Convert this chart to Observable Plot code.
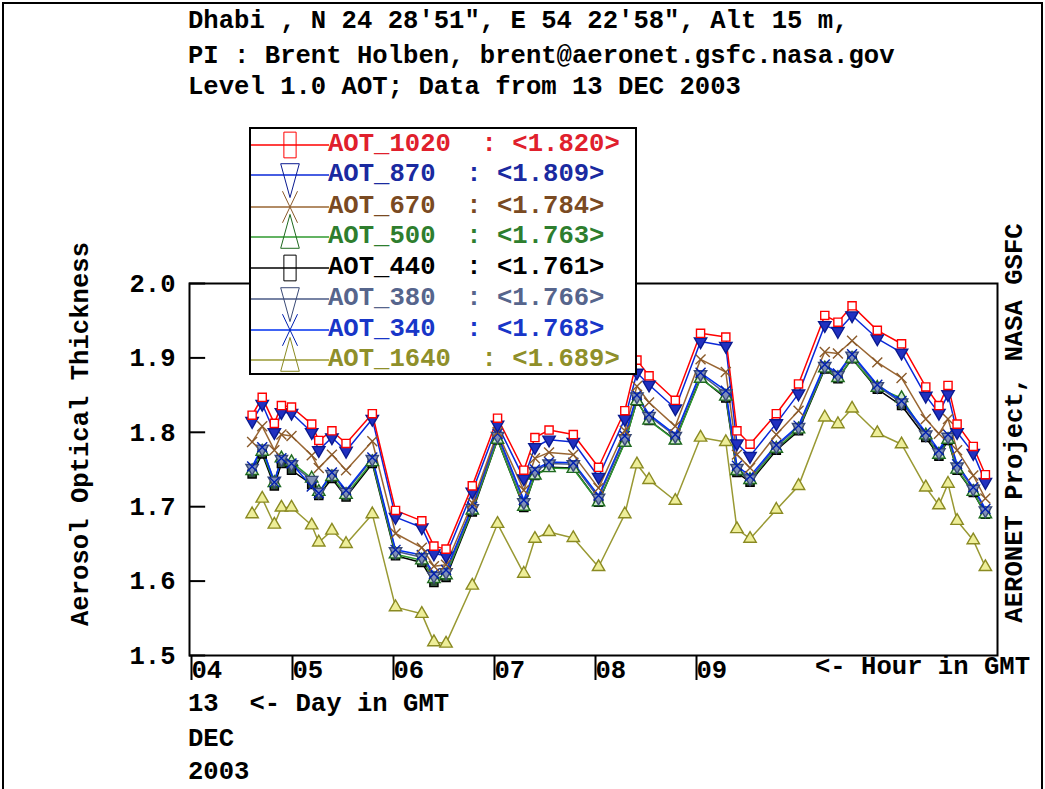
<!DOCTYPE html>
<html><head><meta charset="utf-8">
<script src="https://cdn.jsdelivr.net/npm/d3@7"></script>
<script src="https://cdn.jsdelivr.net/npm/@observablehq/plot@0.6"></script>
<style>
body{margin:0;background:#fff;}
#page{position:relative;width:1045px;height:789px;overflow:hidden;background:#fff;
  font-family:"Liberation Mono","DejaVu Sans Mono",monospace;font-weight:bold;font-size:25.6px;color:#000;}
#page svg{position:absolute;left:0;top:0;}
.t{position:absolute;white-space:pre;line-height:1;transform:translateY(-50%);}
.rot{position:absolute;white-space:pre;line-height:1;transform:translate(-50%,-50%) rotate(-90deg);}
#border{position:absolute;left:2px;top:2px;width:1037px;height:800px;border:2px solid #000;}
#legend{position:absolute;left:249px;top:127px;width:384px;height:244px;border:2px solid #000;background:#fff;}
#legend svg{position:absolute;left:0;top:0;overflow:visible;}
</style>
</head><body>
<div id="page">
  <div id="border"></div>
  <div id="chart"></div>
</div>
<script>
// ---- data ----
const hours = [4.62,4.72,4.84,4.91,5.01,5.21,5.28,5.41,5.55,5.81,6.04,6.30,6.42,6.54,6.80,7.05,7.31,7.42,7.56,7.80,8.05,8.31,8.43,8.55,8.81,9.06,9.31,9.42,9.55,9.81,10.03,10.29,10.42,10.56,10.81,11.05,11.29,11.42,11.51,11.60,11.76,11.88];
const aot1020 = [1.823,1.847,1.812,1.836,1.834,1.811,1.789,1.802,1.785,1.825,1.695,1.681,1.647,1.643,1.728,1.819,1.749,1.793,1.803,1.797,1.753,1.829,1.897,1.876,1.843,1.933,1.928,1.802,1.784,1.825,1.865,1.957,1.948,1.970,1.937,1.919,1.861,1.836,1.863,1.811,1.781,1.743];
const aot870 = [1.815,1.838,1.800,1.827,1.826,1.800,1.776,1.793,1.775,1.818,1.686,1.672,1.637,1.634,1.720,1.810,1.738,1.780,1.790,1.787,1.740,1.818,1.880,1.864,1.832,1.922,1.916,1.785,1.768,1.812,1.852,1.944,1.936,1.957,1.926,1.907,1.849,1.826,1.851,1.800,1.772,1.733];
const aot670 = [1.787,1.808,1.776,1.797,1.795,1.769,1.752,1.770,1.749,1.788,1.664,1.645,1.620,1.622,1.705,1.800,1.722,1.765,1.773,1.770,1.725,1.802,1.862,1.840,1.808,1.898,1.881,1.770,1.752,1.797,1.829,1.908,1.906,1.923,1.894,1.873,1.818,1.798,1.818,1.776,1.742,1.711];
const aot500 = [1.748,1.774,1.732,1.765,1.760,1.738,1.720,1.740,1.716,1.760,1.636,1.628,1.603,1.608,1.695,1.790,1.700,1.742,1.752,1.751,1.706,1.786,1.842,1.816,1.789,1.872,1.848,1.748,1.736,1.778,1.804,1.886,1.873,1.899,1.860,1.846,1.796,1.770,1.790,1.750,1.720,1.690];
const aot440 = [1.744,1.771,1.728,1.758,1.749,1.730,1.715,1.738,1.713,1.758,1.634,1.625,1.598,1.605,1.693,1.790,1.699,1.742,1.753,1.752,1.706,1.787,1.842,1.816,1.790,1.873,1.846,1.746,1.733,1.776,1.802,1.885,1.872,1.899,1.858,1.836,1.793,1.768,1.789,1.749,1.719,1.690];
const aot380 = [1.752,1.778,1.735,1.764,1.757,1.736,1.720,1.744,1.720,1.764,1.640,1.632,1.607,1.612,1.698,1.795,1.706,1.748,1.758,1.757,1.712,1.792,1.848,1.822,1.795,1.878,1.852,1.752,1.738,1.781,1.807,1.889,1.877,1.903,1.862,1.840,1.797,1.773,1.794,1.754,1.724,1.695];
const aot340 = [1.754,1.780,1.733,1.765,1.758,1.727,1.718,1.746,1.722,1.766,1.642,1.635,1.610,1.615,1.700,1.798,1.709,1.750,1.760,1.759,1.715,1.795,1.850,1.824,1.797,1.880,1.856,1.755,1.741,1.783,1.809,1.891,1.879,1.905,1.864,1.842,1.800,1.776,1.797,1.757,1.726,1.697];
const aot1640 = [1.690,1.711,1.676,1.699,1.699,1.675,1.652,1.668,1.650,1.690,1.565,1.556,1.518,1.516,1.594,1.677,1.610,1.657,1.666,1.658,1.619,1.690,1.757,1.736,1.708,1.793,1.787,1.670,1.657,1.696,1.728,1.820,1.811,1.832,1.799,1.784,1.726,1.702,1.731,1.681,1.655,1.619];
const bandNames = ["AOT_1020","AOT_870","AOT_670","AOT_500","AOT_440","AOT_380","AOT_340","AOT_1640"];
const bandMeans = ["1.820","1.809","1.784","1.763","1.761","1.766","1.768","1.689"];
const bandValues = [aot1020,aot870,aot670,aot500,aot440,aot380,aot340,aot1640];
const yTicks = [1.5,1.6,1.7,1.8,1.9,2.0];
const xTicks = [4,5,6,7,8,9];
const titleLines = ["Dhabi , N 24 28\u203251\", E 54 22\u203258\", Alt 15 m,","PI : Brent Holben, brent@aeronet.gsfc.nasa.gov","Level 1.0 AOT; Data from 13 DEC 2003"];

// ---- styles ----
const triangleDown = {draw(ctx, size){const s3=Math.sqrt(3);const y=-Math.sqrt(size/(s3*3));ctx.moveTo(0,-y*2);ctx.lineTo(-s3*y,y);ctx.lineTo(s3*y,y);ctx.closePath();}};
const styles = [
  {line:"#ff0000", text:"#e0202c", symbol:"square",   fill:"#fff",    mark:"#ff0000"},
  {line:"#0a28d8", text:"#1a2aa0", symbol:triangleDown, fill:"#2030c0", mark:"#0a1a90"},
  {line:"#996633", text:"#7a4a22", symbol:"times",    fill:"none",    mark:"#8a5a2a"},
  {line:"#2f9a2f", text:"#2e7e2e", symbol:"triangle", fill:"#cfe8cf", mark:"#1f6a1f"},
  {line:"#000000", text:"#000000", symbol:"square",   fill:"#30503a", mark:"#000000"},
  {line:"#4a5a86", text:"#56658c", symbol:triangleDown, fill:"#8090b8", mark:"#3a4a76"},
  {line:"#0030f0", text:"#1836c8", symbol:"times",    fill:"none",    mark:"#0020b0"},
  {line:"#999933", text:"#8f8f2a", symbol:"triangle", fill:"#eeee99", mark:"#8a8a22"}
];
const drawOrder = [7,4,3,5,6,2,1,0];

const rows = (i) => hours.map((h,j) => ({hour:h, value:bandValues[i][j], band:bandNames[i]}));
const marks = [];
for (const i of drawOrder) {
  const s = styles[i];
  marks.push(Plot.line(rows(i), {x:"hour", y:"value", stroke:s.line, strokeWidth:1.5}));
}
for (const i of drawOrder) {
  const s = styles[i];
  marks.push(Plot.dot(rows(i), {x:"hour", y:"value", symbol:()=>s.symbol, r:4.6, stroke:s.mark, fill:s.fill, strokeWidth:1.4}));
}

const chart = Plot.plot({
  width:1045, height:789,
  marginLeft:189, marginRight:48, marginTop:283, marginBottom:134,
  x:{domain:[4,12]},
  y:{domain:[1.5,2.0]},
  symbol:{type:"identity"},
  style:{fontFamily:"'Liberation Mono', monospace", fontWeight:"bold", fontSize:"25.6px", background:"transparent", color:"#000"},
  marks:[
    ...marks,
    Plot.frame({stroke:"#000", strokeWidth:2}),
    Plot.axisY({ticks:yTicks, tickSize:0, tickPadding:14, tickFormat:d=>d.toFixed(1), label:null, fontSize:25.6, fontWeight:"bold", fill:"#000"}),
    Plot.ruleY(yTicks, {x1:4, x2:4.16, stroke:"#000", strokeWidth:2}),
    Plot.axisX({ticks:xTicks, tickSize:25, tickPadding:-21, textAnchor:"start", dx:2, tickFormat:d=>String(d).padStart(2,"0"), label:null, fontSize:25.6, fontWeight:"bold", fill:"#000", strokeWidth:2})
  ]
});
document.getElementById("chart").appendChild(chart);

// ---- texts ----
const page = document.getElementById("page");
function addText(txt, x, y, cls="t", color="#000") {
  const d = document.createElement("div");
  d.className = cls; d.textContent = txt; d.style.left = x+"px"; d.style.top = y+"px"; d.style.color = color;
  page.appendChild(d); return d;
}
const titleY = [22,57,88];
titleLines.forEach((t,i)=>addText(t, 188, titleY[i]));
addText("<- Hour in GMT", 815, 668);
addText("13  <- Day in GMT", 188, 705);
addText("DEC", 188, 740);
addText("2003", 188, 773);
addText("Aerosol Optical Thickness", 82, 434, "rot");
addText("AERONET Project, NASA GSFC", 1016, 423, "rot");

// ---- legend ----
const leg = document.createElement("div"); leg.id = "legend"; page.appendChild(leg);
const rowY = [16,46,78,108,139,170,201,231];
const lsvg = d3.select(leg).append("svg").attr("width",80).attr("height",246);
bandNames.forEach((n,i)=>{
  const s = styles[i], y = rowY[i];
  lsvg.append("line").attr("x1",0).attr("x2",78).attr("y1",y).attr("y2",y).attr("stroke",s.line).attr("stroke-width",1.5);
  const sym = typeof s.symbol === "string" ? {square:d3.symbolSquare,times:d3.symbolTimes,triangle:d3.symbolTriangle}[s.symbol] : s.symbol;
  lsvg.append("path").attr("d", d3.symbol(sym, 150)()).attr("transform",`translate(39,${y}) scale(1,2.1)`)
    .attr("fill","none").attr("stroke",s.mark).attr("stroke-width",1).attr("vector-effect","non-scaling-stroke");
  const d = document.createElement("div");
  d.className = "t"; d.style.left = "77px"; d.style.top = y+"px"; d.style.color = s.text;
  d.textContent = `${n}  : <${bandMeans[i]}>`;
  leg.appendChild(d);
});
</script>
</body></html>
